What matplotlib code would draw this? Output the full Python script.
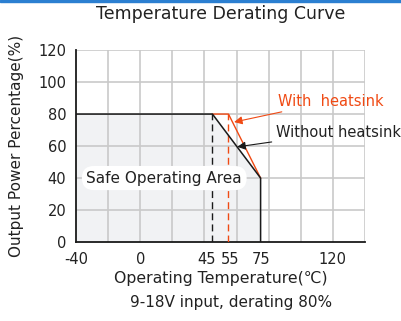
import matplotlib.pyplot as plt
import matplotlib.transforms as mtransforms
from matplotlib.patches import Rectangle

plt.rcParams['axes.unicode_minus'] = False

# derating curves (temperature in C, output power in %)
temp_no_hs = [-40, 45, 75, 75]
power_no_hs = [80, 80, 40, 0]
temp_hs = [45, 55, 75]
power_hs = [80, 80, 40]

xticks = [-40, 0, 45, 55, 75, 120]
yticks = [0, 20, 40, 60, 80, 100, 120]
xgrid = [-20, 0, 20, 40, 60, 80, 100, 120, 140]

fig = plt.figure(figsize=(4.01, 3.21), dpi=100)
ax = fig.add_axes([0.1895, 0.246, 0.7205, 0.598])

# blue strip on top
fig.patches.append(Rectangle((0, 0.993), 1, 0.007, transform=fig.transFigure,
                             color='#2b7fd1', zorder=10))

for g in xgrid:
    ax.axvline(g, color='#c9c9c9', lw=1.2, zorder=1)
for g in yticks[1:]:
    ax.axhline(g, color='#c9c9c9', lw=1.2, zorder=1)

# safe area
ax.fill_between(temp_no_hs, power_no_hs, 0, color='#f1f2f4', zorder=0.5)

ax.plot(temp_hs, power_hs, color='#f04a14', lw=1.0, zorder=3)
ax.plot(temp_no_hs, power_no_hs, color='#1a1a1a', lw=1.1, zorder=4)
ax.plot([45, 45], [0, 80], color='#1a1a1a', lw=1, ls=(0, (5, 3)), zorder=3)
ax.plot([55, 55], [0, 80], color='#f04a14', lw=1, ls=(0, (5, 3)), zorder=3)

ax.text(15, 40, 'Safe Operating Area', fontsize=11, color='#222222', ha='center', va='center',
        bbox=dict(boxstyle='round,pad=0.3,rounding_size=0.8', fc='white', ec='none'), zorder=5)

ax.annotate('With  heatsink', xy=(58.5, 75), xytext=(86, 88), color='#f04a14', fontsize=10.5,
            va='center', ha='left',
            arrowprops=dict(arrowstyle='-|>', color='#f04a14', lw=0.8, mutation_scale=12,
                            shrinkA=1, shrinkB=0), zorder=6)
ax.annotate('Without heatsink', xy=(60.5, 59.5), xytext=(84.5, 68.5), color='#222222', fontsize=10.5,
            va='center', ha='left', annotation_clip=False,
            arrowprops=dict(arrowstyle='-|>', color='#1a1a1a', lw=0.8, mutation_scale=12,
                            shrinkA=1, shrinkB=0), zorder=6)

ax.set_xlim(-40, 140)
ax.set_ylim(0, 120)
ax.set_xticks(xticks)
ax.set_yticks(yticks)
ax.tick_params(length=0, labelsize=10.5, colors='#222222', pad=7)
for s in ['top', 'right']:
    ax.spines[s].set_visible(False)
for s in ['left', 'bottom']:
    ax.spines[s].set_color('#1a1a1a')
    ax.spines[s].set_linewidth(1.3)

# nudge the crowded 45 / 55 labels apart
labels = ax.get_xticklabels()
labels[2].set_transform(labels[2].get_transform() +
                        mtransforms.ScaledTranslation(-4 / 72, 0, fig.dpi_scale_trans))
labels[3].set_transform(labels[3].get_transform() +
                        mtransforms.ScaledTranslation(1 / 72, 0, fig.dpi_scale_trans))

ax.set_xlabel('Operating Temperature(℃)', fontsize=11.3, color='#222222', labelpad=3)
ax.set_ylabel('Output Power Percentage(%)', fontsize=11, color='#222222', labelpad=10)
fig.text(0.551, 0.955, 'Temperature Derating Curve', fontsize=12.5, color='#222222',
         ha='center', va='center')
fig.text(0.577, 0.058, '9-18V input, derating 80%', fontsize=11, color='#222222',
         ha='center', va='center')

fig.savefig('out.png', dpi=100)
